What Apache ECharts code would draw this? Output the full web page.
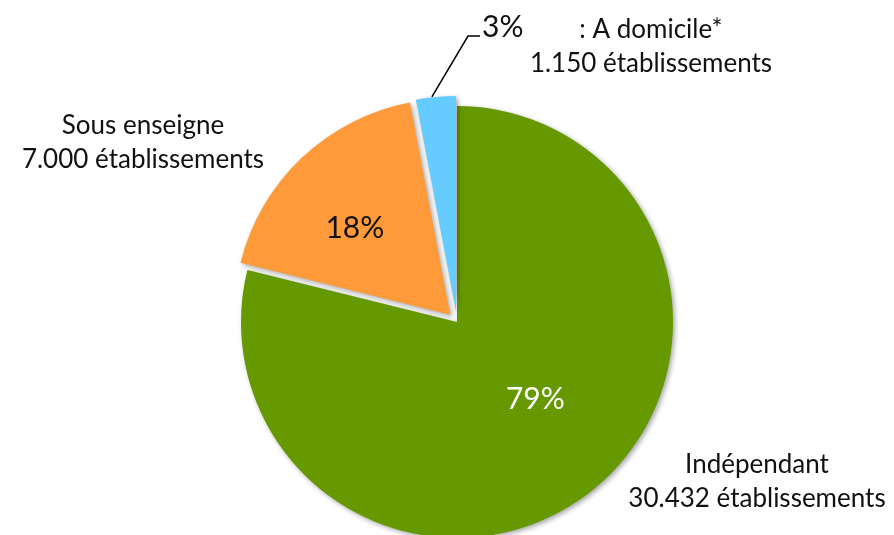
<!doctype html>
<html lang="fr">
<head>
    <meta charset="UTF-8">
    <title>Répartition des établissements</title>
    <script src="https://cdn.jsdelivr.net/npm/echarts@6/dist/echarts.min.js"></script>
    <style>
        html, body { margin: 0; padding: 0; background: #fff; }
        #main { width: 894px; height: 535px; }
    </style>
</head>
<body>
<div id="main"></div>
<script>
    // données
    var categories = ['Indépendant', 'Sous enseigne', ': A domicile*'];
    var counts = [30432, 7000, 1150];
    var colors = ['#669900', '#ff9a3a', '#66ccff'];

    // positions des libellés descriptifs (centre du bloc)
    var descPos = [[757, 482], [143, 143], [651, 47]];

    function fmt(n) {
        return String(n).replace(/\B(?=(\d{3})+(?!\d))/g, '.');
    }

    var FONT = 'Lato, "Open Sans", sans-serif';
    var OFFSET = 10;
    var total = counts.reduce(function (a, b) { return a + b; }, 0);

    // décalage (sélection) d'une part, pour repasser en coordonnées écran
    function sliceShift(idx) {
        var before = 0;
        for (var k = 0; k < idx; k++) before += counts[k];
        var mid = (90 - 360 * (before + counts[idx] / 2) / total) * Math.PI / 180;
        return [OFFSET * Math.cos(mid), -OFFSET * Math.sin(mid)];
    }

    var myChart = echarts.init(document.getElementById('main'));

    var data = categories.map(function (c, i) {
        var item = {
            name: c,
            value: counts[i],
            itemStyle: { color: colors[i] }
        };
        if (i > 0) item.selected = true;
        if (i === 0) item.label = { color: '#fff' };
        if (i === 2) {
            item.label = { position: 'outside' };
            item.labelLine = { show: true, length: 40, length2: 12 };
        }
        return item;
    });

    var graphics = categories.map(function (c, i) {
        return {
            type: 'text',
            x: descPos[i][0],
            y: descPos[i][1],
            style: {
                text: c + '\n' + fmt(counts[i]) + ' établissements',
                font: '26px ' + FONT,
                fill: '#111',
                align: 'center',
                verticalAlign: 'middle',
                lineHeight: 34
            }
        };
    });

    // décalages des étiquettes de pourcentage
    var labelShift = [[10, -10], [-19, -6]];

    var option = {
        backgroundColor: '#fff',
        animation: false,
        graphic: graphics,
        series: [{
            type: 'pie',
            center: [457, 322],
            radius: 216,
            startAngle: 90,
            clockwise: true,
            selectedMode: 'multiple',
            selectedOffset: OFFSET,
            percentPrecision: 0,
            avoidLabelOverlap: false,
            itemStyle: {
                borderWidth: 0,
                shadowBlur: 5,
                shadowOffsetX: 2,
                shadowOffsetY: 2,
                shadowColor: 'rgba(0,0,0,0.35)'
            },
            label: {
                show: true,
                position: 'inside',
                formatter: '{d}%',
                fontSize: 30,
                fontFamily: FONT,
                color: '#111'
            },
            labelLine: { show: false, lineStyle: { color: '#000', width: 1.5 } },
            labelLayout: function (params) {
                var r = params.labelRect;
                if (params.dataIndex !== 2) {
                    return { dx: labelShift[params.dataIndex][0], dy: labelShift[params.dataIndex][1] };
                }
                var s = sliceShift(2);
                // cible à l'écran, ramenée dans le repère de la part décalée
                var lx = 482 - s[0], ly = 27 - s[1];
                var out = {
                    dx: lx - r.x,
                    dy: ly - (r.y + r.height / 2)
                };
                if (params.labelLinePoints) {
                    var p0 = params.labelLinePoints[0];
                    out.labelLinePoints = [
                        [p0[0] - 4, p0[1]],
                        [lx - 14, ly + 9],
                        [lx - 2, ly + 9]
                    ];
                }
                return out;
            },
            data: data
        }]
    };
    myChart.setOption(option);
</script>
</body>
</html>
